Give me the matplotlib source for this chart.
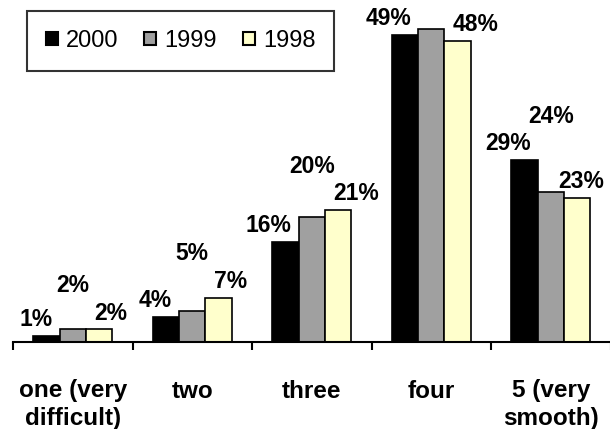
import numpy as np
import matplotlib
matplotlib.use("Agg")
import matplotlib.pyplot as plt
from matplotlib.patches import Patch

plt.rcParams['font.family'] = ['Liberation Sans', 'DejaVu Sans']

categories = ['one (very\ndifficult)', 'two', 'three', 'four', '5 (very\nsmooth)']
series_names = ['2000', '1999', '1998']
values_2000 = [1, 4, 16, 49, 29]
values_1999 = [2, 5, 20, 50, 24]
values_1998 = [2, 7, 21, 48, 23]

colors = ['#000000', '#a0a0a0', '#ffffcc']

W, H = 610, 429
fig = plt.figure(figsize=(W / 100, H / 100), dpi=100)
ax = fig.add_axes([13 / W, 87 / H, 597.5 / W, 342 / H])

ax.set_xlim(-0.5, len(categories) - 0.5)
ax.set_ylim(0, 342 / 6.27)

x = np.arange(len(categories))
w = 0.22
all_vals = [values_2000, values_1999, values_1998]
labels = []
for i, (vals, c) in enumerate(zip(all_vals, colors)):
    pos = x + (i - 1) * w
    ax.bar(pos, vals, width=w, color=c, edgecolor='black', linewidth=1.2, zorder=2)
    for k, (px, v) in enumerate(zip(pos, vals)):
        if i == 0:
            t = ax.annotate(f'{v}%', (px, v), xytext=(4.5, 3.5), textcoords='offset points',
                            ha='right', va='bottom', fontsize=16.5, fontweight='bold')
        elif i == 2:
            t = ax.annotate(f'{v}%', (px, v), xytext=(-3.6, 3.5), textcoords='offset points',
                            ha='left', va='bottom', fontsize=16.5, fontweight='bold')
        else:
            # the middle label is lifted above its taller neighbour
            top = max(values_2000[k], values_1998[k])
            t = ax.annotate(f'{v}%', (px, top), xytext=(0, 23.5), textcoords='offset points',
                            ha='center', va='bottom', fontsize=16.5, fontweight='bold')
        labels.append(t)

for s in ['top', 'right', 'left']:
    ax.spines[s].set_visible(False)
ax.spines['bottom'].set_linewidth(1.5)
ax.set_yticks([])

# category boundaries get the tick marks, names sit in between
ax.set_xticks(np.arange(len(categories) + 1) - 0.5)
ax.set_xticklabels([])
ax.tick_params(axis='x', length=6, width=1.5, direction='out')
ax.set_xticks(x, minor=True)
ax.set_xticklabels(categories, minor=True, fontsize=17.5, fontweight='bold',
                   linespacing=1.25, va='top')
ax.tick_params(axis='x', which='minor', length=0, pad=27)

handles = [Patch(facecolor=c, edgecolor='black', linewidth=1.5) for c in colors]
leg = fig.legend(handles, series_names, loc='upper left',
                 bbox_to_anchor=(27 / W, 1 - 11 / H), borderaxespad=0,
                 ncol=3, fontsize=17, frameon=True, fancybox=False,
                 handlelength=0.5, handleheight=0.5, handletextpad=0.35,
                 columnspacing=1.1, borderpad=0.8)
leg.get_frame().set_edgecolor('black')
leg.get_frame().set_linewidth(1.5)

# keep labels inside the picture: nudge in from the right edge, drop ones off the top
fig.canvas.draw()
r = fig.canvas.get_renderer()
for t in labels:
    bb = t.get_window_extent(r)
    if bb.y1 > H:
        t.remove()
    elif bb.x1 > W - 6:
        dx, dy = t.xyann
        t.xyann = (dx - (bb.x1 - (W - 6)) * 0.72, dy)

fig.savefig('out.png', dpi=100)
